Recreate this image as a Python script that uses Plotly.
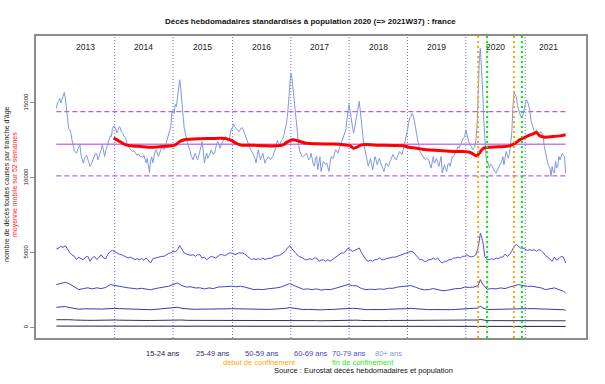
import plotly.graph_objects as go

# ---------------- DATA ----------------
years = ["2013", "2014", "2015", "2016", "2017", "2018", "2019", "2020", "2021"]
year_start_week = [0, 52, 104, 157, 209, 261, 313, 365, 418]   # week index of first week of each year
year_label_week = [26, 78, 130.5, 183, 235, 287, 339, 391.5, 439]
lockdown_start = [376, 408]   # 2020W12, 2020W44
lockdown_end = [384, 415]     # 2020W20, 2020W51

# 80+ ans, weekly (2013W01 .. 2021W37)
d80_2013 = [14640,15000,15100,15300,15000,15200,15450,15700,15300,14700,
            13900,13300,13200,12980,12500,12100,11800,11700,11650,11900,
            12100,12200,11500,11300,10980,11300,11420,11500,11250,11000,
            10760,10900,11100,11200,11400,11650,11600,11200,11400,11600,
            11900,12200,11800,11420,11800,12100,12400,12650,12800,12750,
            13300,13450]
d80_2014 = [13450,13200,13000,13200,13420,13350,13050,12980,12800,12750,
            12600,12300,12100,11980,11900,11800,11760,11800,11700,11640,
            11500,11600,11530,11400,11420,11350,11500,11200,11000,11300,
            10800,10360,11100,11400,11000,11550,11750,11870,11600,11420,
            11640,11900,12090,11950,11870,12100,12350,12530,12800,13100,
            13400,14400]
d80_2015 = [14500,14300,14900,14750,15500,16200,16550,15900,15200,14090,
            13310,12900,12550,12300,12050,11870,11500,11300,11200,11500,
            11640,11300,11200,11500,11870,12100,12420,11700,10980,11400,
            11640,11300,11420,11600,11870,11700,11550,11640,12000,12300,
            12420,12100,11980,12200,12311,12500,12700,12760,12650,12420,
            12530,12900,13300]
d80_2016 = [13300,13600,13420,13300,13200,13150,13100,13250,13350,13310,
            13100,12900,12760,12500,12300,12090,11900,11800,11650,11500,
            11300,11000,11500,11860,11500,11200,11420,11640,11300,10980,
            11200,11300,11420,11300,11200,11350,11420,11700,11870,12200,
            12500,12300,12090,12400,12500,12650,12900,13200,13600,14090,
            15300,16400]
d80_2017 = [16980,16700,15900,15200,14300,13500,12750,12200,11750,11500,
            11420,11420,11500,11600,11640,11400,11200,11300,11640,11300,
            10900,10780,11300,11420,10530,11000,11400,10420,10800,11100,
            10978,10900,11000,10600,10420,11000,11420,11300,11300,11650,
            11867,11800,11640,11900,12090,12300,12530,12700,12980,13200,
            14090,14500]
d80_2018 = [14900,14300,14090,13400,12980,13400,13870,14500,14900,15100,
            14400,13500,12800,12300,11900,11420,11100,10780,11000,11300,
            10900,10530,11000,11420,11200,10870,11100,11300,11000,10760,
            10600,10420,10700,10980,10900,10760,11000,11200,11400,11550,
            11420,11300,11200,11400,11640,11750,11640,11550,11800,12100,
            12400,12800]
d80_2019 = [13200,13640,14000,14090,14300,14200,13870,13500,12980,12500,
            12090,11800,11640,11500,11420,11300,11200,11300,11250,11200,
            10900,10650,11000,11420,10980,11100,11300,11000,10760,11100,
            11420,10311,10700,10870,10600,10420,10900,10980,10760,11200,
            11400,11420,11550,11750,11870,12090,11980,12200,12311,12530,
            12650,12760]
d80_2020 = [13200,12900,12530,12311,12200,12090,11870,11980,12090,12500,
            13400,15500,17867,18644,17600,15867,13870,12090,11420,11000,
            10980,10650,10900,10870,10650,10530,10400,10311,10500,10650,
            10870,10980,11100,11420,10870,11300,11760,11500,11300,11640,
            12200,12980,14756,15644,15600,15420,14870,14533,14311,14100,
            14089,14200,14533]
d80_2021 = [15000,15200,15100,14900,14600,13870,13600,13420,13100,13000,
            13200,13000,12980,13000,13100,12900,12750,12090,11650,11420,
            11000,10760,10650,10090,10756,10400,10311,11100,10650,10760,
            11420,11200,11420,11640,11500,11420,10311]
deaths_80 = (d80_2013 + d80_2014 + d80_2015 + d80_2016 + d80_2017 +
             d80_2018 + d80_2019 + d80_2020 + d80_2021)

# 70-79 ans, every 2 weeks
deaths_70 = [5245,5300,5420,5350,5467,5200,5000,4850,4756,4534,4700,4600,4534,4700,4756,4423,4650,4756,4534,4700,4867,4650,4600,4900,5089,5150,
             5050,4978,4900,4867,4800,4700,4644,4700,4600,4534,4600,4533,4600,4500,4644,4450,4311,4600,4644,4644,4700,4750,4756,4850,4950,4978,
             5089,5050,5200,5467,5200,4978,4900,4867,4820,4867,4756,4867,4860,4644,4700,4533,4644,4756,4700,4644,4756,4867,4867,4800,4867,4978,4978,
             4900,4867,4978,4978,4978,4900,4756,4644,4533,4600,4533,4600,4533,4644,4533,4600,4644,4644,4756,4756,4800,4867,4950,5089,5300,
             5467,5250,5089,4978,4756,4700,4600,4533,4533,4600,4533,4644,4644,4420,4500,4533,4422,4533,4422,4533,4644,4756,4867,4978,4978,5100,5300,
             5200,5089,5150,5245,5311,5000,4750,4533,4422,4500,4422,4533,4533,4650,4533,4533,4600,4644,4644,4700,4700,4756,4800,4867,4900,4978,
             5000,5089,5050,4867,4756,4533,4533,4420,4422,4533,4533,4644,4533,4644,4420,4311,4420,4420,4533,4533,4644,4644,4700,4644,4750,4756,
             4867,4760,4720,4750,4867,5300,6311,5800,4750,4533,4533,4600,4533,4644,4600,4700,4700,4900,4756,4867,5100,5420,5533,5420,5300,5311,5200,
             5150,5200,5150,5200,5089,5200,5150,5000,4800,4700,4533,4422,4700,4500,4600,4756,4700,4311]
weeks_70 = list(range(0, 455, 2))

# other age groups, every 4 weeks (+ 2020W14 peak and last week)
weeks_sparse = sorted(set(range(0, 455, 4)) | {378, 454})
deaths_60 = [2867,2950,3022,2900,2700,2534,2600,2650,2580,2650,2600,2680,2867,
             2800,2750,2700,2650,2600,2580,2620,2550,2520,2600,2644,2700,2756,
             2867,2978,2800,2700,2720,2644,2650,2580,2644,2600,2700,2720,2720,
             2756,2720,2756,2700,2600,2533,2550,2533,2580,2600,2644,2700,2800,
             2934,2800,2650,2550,2580,2533,2580,2500,2550,2533,2600,2700,2756,
             2867,2800,2780,2600,2533,2560,2533,2580,2550,2620,2620,2700,2720,
             2756,2800,2700,2580,2520,2533,2600,2533,2460,2480,2533,2600,2600,
             2700,2680,2700,2800,3200,2900,2560,2600,2580,2644,2600,2700,2800,2867,2800,
             2750,2756,2700,2650,2533,2600,2644,2533,2422,2300]
deaths_50 = [1350,1380,1400,1330,1280,1220,1250,1230,1220,1240,1230,1250,1300,
             1280,1260,1250,1230,1220,1200,1220,1200,1190,1210,1230,1250,1260,
             1300,1350,1280,1240,1230,1220,1220,1200,1220,1210,1240,1250,1250,
             1260,1250,1260,1240,1220,1200,1210,1200,1210,1220,1230,1250,1280,
             1330,1280,1230,1200,1210,1190,1200,1180,1200,1190,1210,1240,1260,
             1300,1280,1270,1220,1190,1200,1190,1200,1200,1220,1220,1240,1250,
             1260,1280,1250,1210,1190,1190,1200,1190,1170,1180,1190,1210,1220,
             1240,1230,1240,1300,1420,1320,1200,1210,1200,1220,1210,1240,1270,1290,1270,
             1260,1260,1250,1240,1200,1210,1230,1200,1190,1150]
deaths_25 = [520,530,540,520,500,480,490,480,480,490,480,490,500,
             500,490,480,480,470,470,480,470,470,480,480,490,490,
             500,520,500,480,480,470,470,470,470,470,480,490,490,
             490,490,490,480,470,460,470,460,470,470,480,490,500,
             510,490,470,460,460,460,460,450,460,460,470,480,490,
             500,490,490,470,460,460,460,460,460,470,470,480,480,
             490,490,480,460,460,460,460,450,450,450,460,470,470,
             480,480,480,500,540,500,460,460,460,470,470,480,490,500,490,
             490,490,490,480,470,470,480,470,470,450]
deaths_15 = [95,95,95,90,88,85,85,85,85,85,85,88,90,
             90,88,85,85,85,82,82,82,82,82,85,85,88,
             90,92,88,85,85,82,82,82,82,82,85,85,85,
             85,85,85,82,80,80,80,80,80,80,82,82,85,
             88,85,82,80,80,78,78,78,78,78,80,80,82,
             85,82,82,80,78,78,78,78,78,78,80,80,80,
             80,82,80,78,76,76,76,76,75,75,75,76,78,
             78,76,76,76,78,76,74,74,74,74,75,76,78,78,78,
             76,76,76,76,75,75,75,74,74,72]

# 52-week moving average of the 80+ series
ma_weeks = [51,54,58,62,68,75,82,90,98,102,106,110,114,118,126,134,142,147,152,156,160,165,172,180,
            188,196,202,206,211,215,223,232,247,256,262,265,268,272,285,300,309,314,321,330,342,356,
            363,369,375,377,381,386,395,404,409,413,419,425,428,431,436,443,449,454]
ma_values = [12644,12533,12356,12200,12130,12090,12045,12060,12100,12133,12200,12422,12540,12578,12600,12620,
             12630,12644,12600,12500,12311,12178,12178,12160,12133,12133,12200,12400,12533,12470,12311,12270,
             12250,12200,12133,11978,12050,12200,12180,12160,12133,12045,11978,11867,11820,11756,11756,11690,
             11467,11644,11978,12045,12067,12133,12311,12533,12756,12933,13022,12800,12711,12756,12800,12870]

mean_level = 12247
upper_level = 14420
lower_level = 10133

age_labels = ["15-24 ans", "25-49 ans", "50-59 ans", "60-69 ans", "70-79 ans", "80+ ans"]
age_colors = ["#22223f", "#30306e", "#3838a8", "#4242d2", "#4b4bf0", "#7f98e4"]

# ---------------- FIGURE ----------------
W, H = 605, 384
L, R, T, B = 36, 19, 36, 46
pw, ph = W - L - R, H - T - B


def px_x(px):
    return (px - L) / pw


def px_y(py):
    return (H - B - py) / ph


FONT = "Liberation Sans, Arial, sans-serif"
fig = go.Figure()

first_w, last_w = 0, len(deaths_80) - 1
for lvl, dash, col, wd in [(upper_level, "5px,3px", "#b060f0", 1.2),
                           (lower_level, "5px,3px", "#b060f0", 1.2),
                           (mean_level, "solid", "#c27cf4", 1.5)]:
    fig.add_trace(go.Scatter(x=[first_w, last_w], y=[lvl, lvl], mode="lines",
                             line=dict(color=col, width=wd, dash=dash), hoverinfo="skip"))

series = [(weeks_sparse, deaths_15), (weeks_sparse, deaths_25), (weeks_sparse, deaths_50),
          (weeks_sparse, deaths_60), (weeks_70, deaths_70), (list(range(len(deaths_80))), deaths_80)]
for (xs, ys), col in zip(series, age_colors):
    fig.add_trace(go.Scatter(x=xs, y=ys, mode="lines", line=dict(color=col, width=1)))

fig.add_trace(go.Scatter(x=ma_weeks, y=ma_values, mode="lines",
                         line=dict(color="#ff0000", width=3, shape="spline")))

for w in year_start_week[1:]:
    fig.add_vline(x=w, line=dict(color="#6a6aff", width=1, dash="1px,2px"), layer="below")
for w in lockdown_start:
    fig.add_vline(x=w, line=dict(color="#ffa500", width=2, dash="2px,3px"))
for w in lockdown_end:
    fig.add_vline(x=w, line=dict(color="#00ee00", width=2, dash="2px,3px"))


def txt(x, y, text, size, color, xref="paper", yref="paper", angle=0):
    return dict(x=x, y=y, xref=xref, yref=yref, text=text, showarrow=False, textangle=angle,
                xanchor="center", yanchor="middle", font=dict(size=size, color=color, family=FONT))


ann = []
for lab, w in zip(years, year_label_week):
    ann.append(txt(w, 18733, lab, 8.5, "#222", xref="x", yref="y"))

ann.append(txt(px_x(310), px_y(22),
               "<b>Décès hebdomadaires standardisés à population 2020 (=> 2021W37) : france</b>",
               8, "#111"))
ann.append(txt(px_x(7), px_y(184), "nombre de décès toutes causes par tranche d'âge", 7, "#222", angle=-90))
ann.append(txt(px_x(15), px_y(185), "moyenne mobile sur 52 semaines", 7, "#ff2020", angle=-90))

leg_x = [163, 213, 262, 311, 349, 388]
for lab, col, x in zip(age_labels, age_colors, leg_x):
    ann.append(txt(px_x(x), px_y(353), lab, 7.5, col))
ann.append(txt(px_x(259), px_y(362), "début de confinement", 7.5, "#ffa500"))
ann.append(txt(px_x(363), px_y(362), "fin de confinement", 7.5, "#22ee22"))
ann.append(txt(px_x(363), px_y(370), "Source : Eurostat décès hebdomadaires et population", 7.5, "#111"))

fig.update_layout(
    width=W, height=H, margin=dict(l=L, r=R, t=T, b=B),
    paper_bgcolor="white", plot_bgcolor="white", showlegend=False,
    annotations=ann,
    xaxis=dict(range=[-18.16, 472.16], showgrid=False, zeroline=False, showticklabels=False,
               ticks="", showline=True, mirror=True, linecolor="#8c8c8c", linewidth=2),
    yaxis=dict(range=[-700, 19470], showgrid=False, zeroline=False,
               tickvals=[0, 5000, 10000, 15000], ticktext=["0", "5000", "10000", "15000"],
               tickangle=-90, ticks="outside", ticklen=4, tickcolor="#8c8c8c",
               tickfont=dict(size=6, color="#222", family=FONT),
               showline=True, mirror=True, linecolor="#8c8c8c", linewidth=2),
)

fig.write_html("out.html", config={"displayModeBar": False},
               post_script="document.body.style.margin='0';document.body.style.overflow='hidden';")
